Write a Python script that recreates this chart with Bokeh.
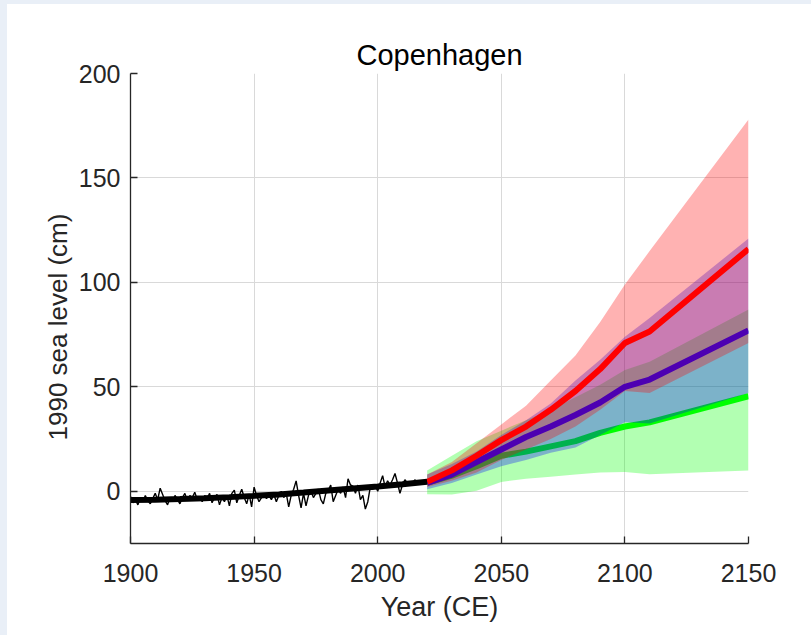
from bokeh.plotting import figure
from bokeh.models import Range1d, FixedTicker, Spacer, Title
from bokeh.layouts import row, column
from bokeh.embed import file_html
from bokeh.resources import INLINE

# ---- historical annual sea level (cm, relative to 1990) ----
hist_years = list(range(1900, 2019))
hist_values = [
    -2.5, -5.5, -4, -6.5, -3, -5, -2, -4.5, -6, -3.5,
    -1, -4, 1.5, -1.5, -4.5, -6.5, -3, -5, -2, -4,
    -6, -3, -1, -4.5, -2, -3, -0.5, -4, -2.5, -5,
    -2, -3.5, -1, -5.5, -3, -1.5, -6.5, -3, -5, -2,
    -7, -1, 0.5, -5.5, -2, 1, -3, -6, -1.5, -7.5,
    2, -2, -5, -3, -1, -3.5, -2, -4, -1.5, -5,
    -2, 0, -3, -1, -7.5, -2, 1, 5, -2, -8,
    -1, -7, -2, 0, -3, -1, 1, -4, -6, -1,
    0.5, 3, -5, -2, 1, -1, 2, -3, 6, 3,
    2.5, -1, 3, -4, -2, -8.5, -5, 2, 1, 3,
    0, 4, 7.5, 2, 5, 3, 5.5, 8.5, 4, -1,
    3, 5.5, 4, 4.5, 3, 5.5, 4, 5, 4,
]

# ---- smoothed historical trend ----
trend_years = [1900, 1910, 1920, 1930, 1940, 1950, 1960, 1970, 1980, 1990, 2000, 2010, 2020]
trend_values = [-4.2, -4.0, -3.7, -3.3, -2.8, -2.2, -1.5, -0.6, 0.4, 1.3, 2.3, 3.4, 4.6]

# ---- projections ----
proj_years = [2020, 2030, 2040, 2050, 2060, 2070, 2080, 2090, 2100, 2110, 2150]

high_median = [4.5, 10, 17, 24.5, 31, 39, 48, 58.5, 71, 76.5, 116]
high_lower = [2, 5, 9, 15, 20, 25, 31, 39, 48, 47, 71]
high_upper = [8, 14, 23, 32, 41, 53, 65, 81, 99, 115, 178]

mid_median = [4, 8, 14, 20, 26, 31, 36.5, 42.5, 50, 53.5, 77]
mid_lower = [1, 4, 8, 12, 15, 18.5, 21, 27, 33, 32.5, 47]
mid_upper = [8, 13, 19, 27, 34, 42, 53, 63, 74, 83, 121]

low_median = [4, 7.5, 12, 17, 19, 21.5, 24, 28, 31, 33, 45.5]
low_lower = [-1.4, -1.5, 0.3, 4.5, 6, 7, 8, 9, 9.2, 8.1, 10]
low_upper = [10, 17, 24, 29, 34, 39, 45, 51, 58, 62, 87]

x_ticks = [1900, 1950, 2000, 2050, 2100, 2150]
y_ticks = [0, 50, 100, 150, 200]

FONT = "Liberation Sans"
AX = "#262626"
PAGE_BG = "#e9eff7"

p = figure(
    width=804, height=631,
    x_range=Range1d(1900, 2150), y_range=Range1d(-25, 200),
    output_backend="svg", toolbar_location=None,
    min_border_left=123, min_border_right=63,
    min_border_top=69, min_border_bottom=92,
    title="Copenhagen",
)
p.outline_line_color = None
p.background_fill_color = "white"
p.border_fill_color = "white"

p.title.align = "center"
p.title.text_font = FONT
p.title.text_font_size = "29px"
p.title.text_font_style = "normal"
p.title.text_color = "#000000"
p.title.standoff = 6

for ax in (p.xaxis, p.yaxis):
    ax.axis_line_color = AX
    ax.axis_line_width = 1.3
    ax.major_tick_line_color = AX
    ax.major_tick_line_width = 1.3
    ax.major_tick_in = 7
    ax.major_tick_out = 0
    ax.minor_tick_line_color = None
    ax.major_label_text_font = FONT
    ax.major_label_text_font_size = "25px"
    ax.major_label_text_color = AX
    ax.axis_label_text_font = FONT
    ax.axis_label_text_font_size = "27px"
    ax.axis_label_text_font_style = "normal"
    ax.axis_label_text_color = AX

p.xaxis.ticker = FixedTicker(ticks=x_ticks)
p.yaxis.ticker = FixedTicker(ticks=y_ticks)
p.xaxis.axis_label = "Year (CE)"
p.xaxis.major_label_standoff = 20
p.xaxis.axis_label_standoff = 7
p.yaxis.major_label_standoff = 10

ylab = Title(text="1990 sea level (cm)", align="left", offset=103,
             text_font=FONT, text_font_size="26px", text_font_style="normal",
             text_color=AX, standoff=5)
p.add_layout(ylab, "left")

p.grid.grid_line_color = "#d9d9d9"
p.grid.grid_line_width = 1

# low scenario
p.varea(x=proj_years, y1=low_lower, y2=low_upper, fill_color="#00ff00", fill_alpha=0.3)
p.line(proj_years, low_median, line_color="#00ff00", line_width=6)
# mid scenario
p.varea(x=proj_years, y1=mid_lower, y2=mid_upper, fill_color="#0000ff", fill_alpha=0.3)
p.line(proj_years, mid_median, line_color="#0000ff", line_width=6)
# high scenario
p.varea(x=proj_years, y1=high_lower, y2=high_upper, fill_color="#ff0000", fill_alpha=0.3)
p.line(proj_years, high_median, line_color="#ff0000", line_width=6)

# history
p.line(trend_years, trend_values, line_color="black", line_width=6)
p.line(hist_years, hist_values, line_color="black", line_width=1.4)

left_strip = Spacer(width=7, height=635, styles={"background-color": PAGE_BG})
top_strip = Spacer(width=804, height=4, styles={"background-color": PAGE_BG})
layout = row(left_strip, column(top_strip, p, spacing=0), spacing=0)

open("out.html", "w").write(file_html(layout, INLINE))
